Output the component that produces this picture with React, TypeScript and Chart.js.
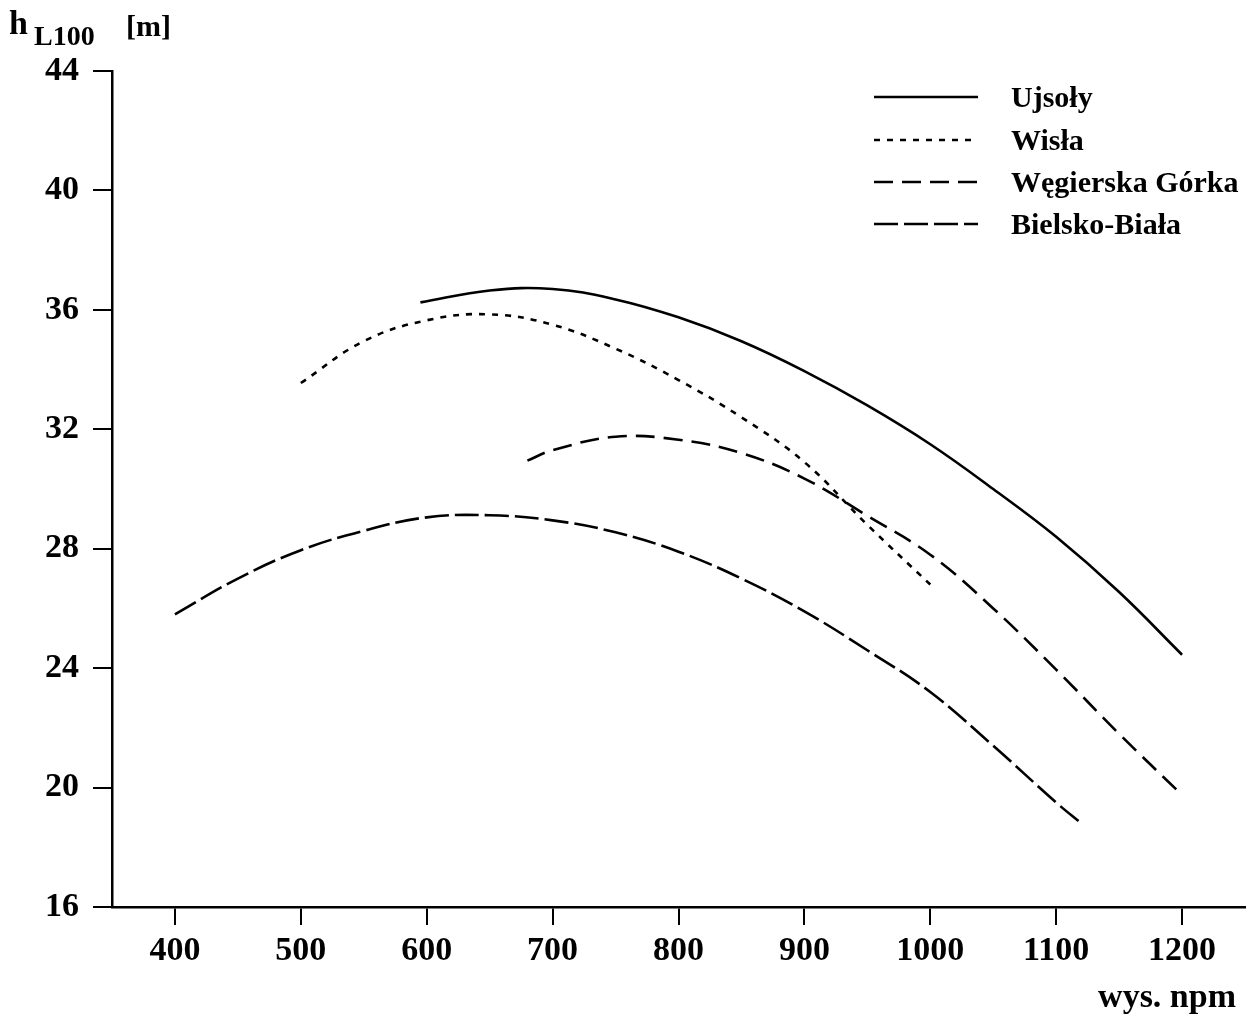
import React, { useEffect, useRef } from "react";
import { Chart, registerables } from "chart.js";

Chart.register(...registerables);

const ujsolyX = [595, 650, 700, 750, 800, 850, 900, 950, 1000, 1050, 1100, 1150, 1200];
const ujsolyY = [36.25, 36.65, 36.7, 36.35, 35.75, 34.95, 33.95, 32.8, 31.5, 30.0, 28.4, 26.55, 24.45];

const wislaX = [500, 550, 600, 650, 700, 750, 800, 850, 900, 950, 1000];
const wislaY = [33.55, 34.95, 35.65, 35.85, 35.5, 34.7, 33.65, 32.4, 30.9, 28.8, 26.8];

const wegierskaX = [680, 700, 750, 800, 850, 900, 950, 1000, 1050, 1100, 1150, 1200];
const wegierskaY = [30.95, 31.3, 31.75, 31.65, 31.2, 30.35, 29.1, 27.8, 26.0, 23.95, 21.8, 19.75];

const bielskoX = [400, 450, 500, 550, 600, 650, 700, 750, 800, 850, 900, 950, 1000, 1050, 1100, 1120];
const bielskoY = [25.8, 27.0, 27.95, 28.6, 29.05, 29.12, 28.95, 28.55, 27.9, 27.0, 25.9, 24.6, 23.2, 21.4, 19.5, 18.8];

const xTicks = [400, 500, 600, 700, 800, 900, 1000, 1100, 1200];
const yTicks = [16, 20, 24, 28, 32, 36, 40, 44];

const seriesNames = ["Ujsoły", "Wisła", "Węgierska Górka", "Bielsko-Biała"];
const seriesDashes: number[][] = [[], [6, 7], [19, 9], [24, 6]];

const FONT = '"Liberation Serif", "DejaVu Serif", serif';

const toPoints = (xs: number[], ys: number[]) => xs.map((x, i) => ({ x, y: ys[i] }));

const annotationsPlugin = {
  id: "annotations",
  afterDraw(chart: any) {
    const ctx = chart.ctx;
    ctx.save();
    ctx.fillStyle = "#000";
    ctx.textBaseline = "alphabetic";
    ctx.textAlign = "left";
    // axis title
    ctx.font = `bold 34px ${FONT}`;
    ctx.fillText("h", 9, 34);
    ctx.font = `bold 28px ${FONT}`;
    ctx.fillText("L100", 34, 45);
    ctx.font = `bold 30px ${FONT}`;
    ctx.fillText("[m]", 126, 36);
    // x-axis title
    ctx.font = `bold 34px ${FONT}`;
    ctx.textAlign = "right";
    ctx.fillText("wys. npm", 1236, 1007);
    // legend
    const ys = [97, 140, 182, 224];
    ctx.textAlign = "left";
    ctx.font = `bold 30px ${FONT}`;
    seriesNames.forEach((name, i) => {
      ctx.save();
      ctx.strokeStyle = "#000";
      ctx.lineWidth = 2.5;
      ctx.setLineDash(seriesDashes[i]);
      ctx.beginPath();
      ctx.moveTo(874, ys[i]);
      ctx.lineTo(978, ys[i]);
      ctx.stroke();
      ctx.restore();
      ctx.fillText(name, 1011, ys[i] + 10);
    });
    ctx.restore();
  },
};

export default function App() {
  const ref = useRef<HTMLCanvasElement | null>(null);
  useEffect(() => {
    document.body.style.margin = "0";
    if (!ref.current) return;
    const data = [
      toPoints(ujsolyX, ujsolyY),
      toPoints(wislaX, wislaY),
      toPoints(wegierskaX, wegierskaY),
      toPoints(bielskoX, bielskoY),
    ];
    const chart = new Chart(ref.current, {
      type: "line",
      data: {
        datasets: data.map((d, i) => ({
          label: seriesNames[i],
          data: d,
          borderColor: "#000",
          borderWidth: 2.6,
          borderDash: seriesDashes[i],
          pointRadius: 0,
          tension: 0.4,
          fill: false,
        })),
      },
      options: {
        animation: false,
        responsive: true,
        maintainAspectRatio: false,
        layout: { padding: { left: 0, top: 71, right: 8, bottom: 0 } },
        plugins: { legend: { display: false }, tooltip: { enabled: false } },
        scales: {
          x: {
            type: "linear",
            min: 350,
            max: 1250,
            afterBuildTicks: (scale: any) => {
              scale.ticks = xTicks.map((v) => ({ value: v }));
            },
            afterFit: (scale: any) => {
              scale.height = 115;
            },
            border: { display: true, color: "#000", width: 2.5 },
            grid: { display: true, drawOnChartArea: false, drawTicks: true, tickLength: 18, color: "#000", lineWidth: 2 },
            ticks: {
              color: "#000",
              font: { family: FONT, size: 34, weight: "bold" },
              padding: 6,
              maxRotation: 0,
              autoSkip: false,
              callback: (v: any) => String(v),
            },
          },
          y: {
            type: "linear",
            min: 16,
            max: 44,
            afterBuildTicks: (scale: any) => {
              scale.ticks = yTicks.map((v) => ({ value: v }));
            },
            afterFit: (scale: any) => {
              scale.width = 112;
            },
            border: { display: true, color: "#000", width: 2.5 },
            grid: { display: true, drawOnChartArea: false, drawTicks: true, tickLength: 19, color: "#000", lineWidth: 2 },
            ticks: {
              color: "#000",
              font: { family: FONT, size: 34, weight: "bold" },
              padding: 14,
              autoSkip: false,
              callback: (v: any) => String(v),
            },
          },
        },
      },
      plugins: [annotationsPlugin],
    } as any);
    return () => chart.destroy();
  }, []);
  return (
    <div style={{ position: "fixed", left: 0, top: 0, width: 1253, height: 1022, background: "#fff" }}>
      <canvas ref={ref} />
    </div>
  );
}
